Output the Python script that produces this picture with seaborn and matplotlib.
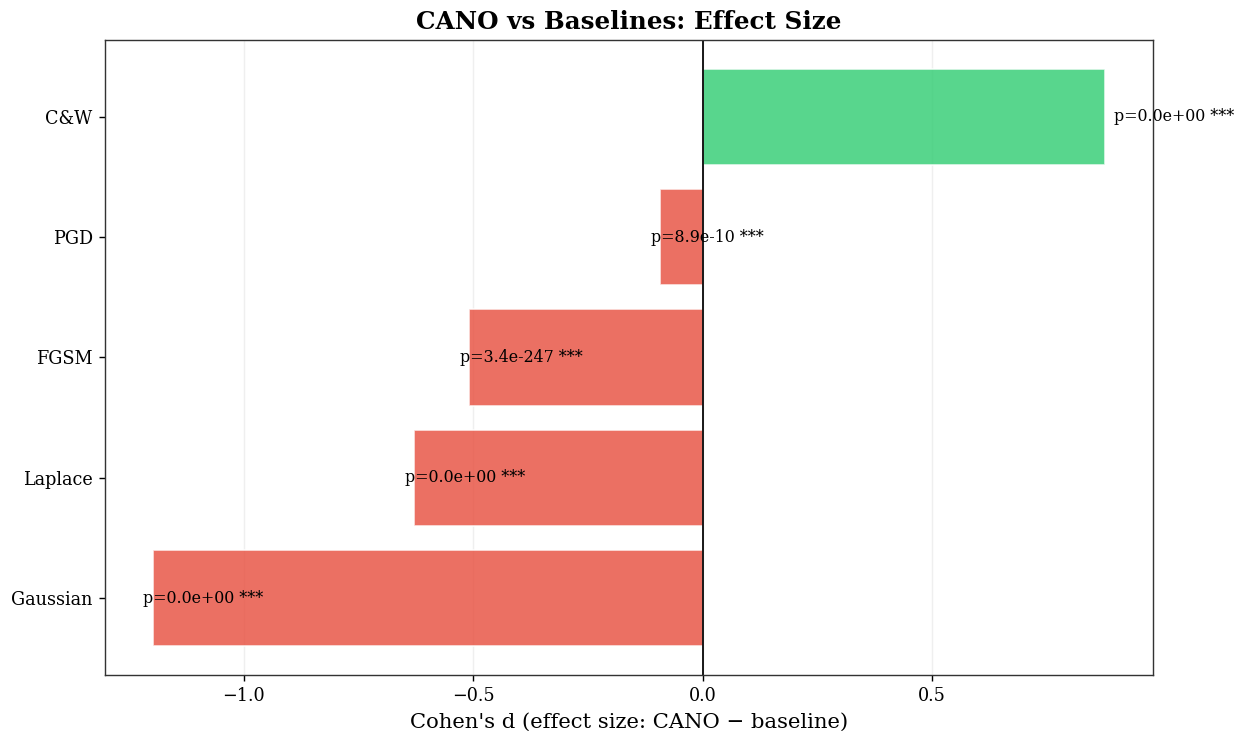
import pandas as pd
import matplotlib.pyplot as plt
import seaborn as sns

methods = ['C&W', 'PGD', 'FGSM', 'Laplace', 'Gaussian']
cohens_d = [0.878, -0.092, -0.509, -0.629, -1.199]
p_labels = ['p=0.0e+00 ***', 'p=8.9e-10 ***', 'p=3.4e-247 ***', 'p=0.0e+00 ***', 'p=0.0e+00 ***']

sns.set_style('ticks')
plt.rcParams['font.family'] = ['DejaVu Serif']
plt.rcParams['axes.edgecolor'] = '0.2'
plt.rcParams['text.color'] = 'black'
plt.rcParams['axes.labelcolor'] = 'black'
plt.rcParams['xtick.color'] = 'black'
plt.rcParams['ytick.color'] = 'black'

df = pd.DataFrame({'method': methods, 'd': cohens_d})
colors = ['#2ecc71' if d > 0 else '#e74c3c' for d in cohens_d]

dpi = 126.6
fig, ax = plt.subplots(figsize=(1238 / dpi, 731 / dpi), dpi=dpi)
fig.subplots_adjust(left=0.0848, right=0.9313, top=0.9453, bottom=0.0766)
sns.barplot(data=df, x='d', y='method', hue='method', palette=colors, legend=False,
            orient='h', width=0.8, alpha=0.8, saturation=1, edgecolor='white',
            linewidth=1, ax=ax)
ax.set_ylim(4.64, -0.64)
ax.axvline(0, color='black', linewidth=1)
ax.grid(axis='x', alpha=0.3)
ax.set_axisbelow(True)
for i, (d, lab) in enumerate(zip(cohens_d, p_labels)):
    x = d + 0.02 if d > 0 else d - 0.02
    ax.text(x, i, lab, va='center', ha='left', fontsize=9)
ax.set_xlabel("Cohen's d (effect size: CANO \u2212 baseline)", fontsize=12)
ax.set_ylabel('')
ax.set_title('CANO vs Baselines: Effect Size', fontsize=14, fontweight='bold')
ax.tick_params(labelsize=10)
plt.savefig('out.png', dpi=dpi)
